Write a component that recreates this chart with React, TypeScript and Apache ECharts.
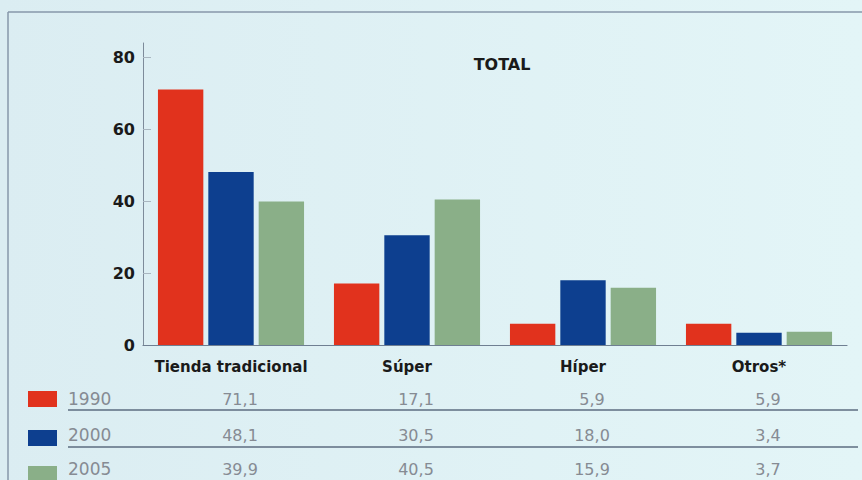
import React, { useEffect, useRef } from "react";
import * as echarts from "echarts";

const categories = ["Tienda tradicional", "Súper", "Híper", "Otros*"];
const years = ["1990", "2000", "2005"];
const values1990 = [71.1, 17.1, 5.9, 5.9];
const values2000 = [48.1, 30.5, 18.0, 3.4];
const values2005 = [39.9, 40.5, 15.9, 3.7];
const yTicks = [0, 20, 40, 60, 80];
const colors = ["#e1321d", "#0d3f8f", "#8aaf88"];

const fmt = (v: number) => v.toFixed(1).replace(".", ",");

export default function App() {
  const ref = useRef<HTMLDivElement>(null);
  useEffect(() => {
    const el = ref.current!;
    const chart = echarts.init(el, undefined, { renderer: "svg" });
    const W = 862;
    const gridLeft = 143;
    const gridWidth = 704;
    const colW = gridWidth / categories.length;
    const rowsY = [399, 435, 469];
    const seriesVals = [values1990, values2000, values2005];

    const graphic: any[] = [
      { type: "line", shape: { x1: 8, y1: 12, x2: W, y2: 12 }, style: { stroke: "#8797aa", lineWidth: 1.5 } },
      { type: "line", shape: { x1: 8, y1: 12, x2: 8, y2: 480 }, style: { stroke: "#8797aa", lineWidth: 1.5 } },
      { type: "line", shape: { x1: 68, y1: 410, x2: 858, y2: 410 }, style: { stroke: "#5d6c80", lineWidth: 1.3 } },
      { type: "line", shape: { x1: 68, y1: 447, x2: 858, y2: 447 }, style: { stroke: "#5d6c80", lineWidth: 1.3 } },
    ];
    const swatchY = [391, 430, 466];
    years.forEach((yr, r) => {
      graphic.push({
        type: "rect",
        shape: { x: 28, y: swatchY[r], width: 29, height: 16 },
        style: { fill: colors[r] },
      });
      graphic.push({
        type: "text",
        x: 68,
        y: rowsY[r],
        style: {
          text: yr,
          fill: "#868b93",
          font: "17px 'DejaVu Sans'",
          textVerticalAlign: "middle",
          textAlign: "left",
        },
      });
      seriesVals[r].forEach((v, c) => {
        graphic.push({
          type: "text",
          x: gridLeft + (c + 0.5) * colW + 9,
          y: rowsY[r],
          style: {
            text: fmt(v),
            fill: "#868b93",
            font: "16px 'DejaVu Sans'",
            textVerticalAlign: "middle",
            textAlign: "center",
          },
        });
      });
    });

    chart.setOption({
      animation: false,
      backgroundColor: {
        type: "linear",
        x: 0, y: 0, x2: 1, y2: 0,
        colorStops: [
          { offset: 0, color: "#dbedf2" },
          { offset: 1, color: "#e3f5f7" },
        ],
      },
      title: {
        text: "TOTAL",
        left: 497,
        top: 51,
        textAlign: "center",
        textStyle: { fontFamily: "DejaVu Sans", fontWeight: "bold", fontSize: 16, color: "#1a1a1a" },
      },
      grid: { left: gridLeft, width: gridWidth, top: 43, height: 302 },
      xAxis: {
        type: "category",
        data: categories,
        axisLine: { lineStyle: { color: "#6f7f92", width: 1.2 } },
        axisTick: { show: false },
        axisLabel: {
          interval: 0,
          fontFamily: "DejaVu Sans",
          fontWeight: "bold",
          fontSize: 15,
          color: "#1a1a1a",
          margin: 14,
        },
      },
      yAxis: {
        type: "value",
        min: 0,
        max: 84,
        splitLine: { show: false },
        axisLine: { show: true, lineStyle: { color: "#7d8b9a", width: 1 } },
        axisTick: {
          show: true,
          inside: true,
          length: 8,
          customValues: yTicks.slice(1),
          lineStyle: { color: "#a9b6c0" },
        },
        axisLabel: {
          customValues: yTicks,
          fontFamily: "DejaVu Sans",
          fontWeight: "bold",
          fontSize: 16,
          color: "#1a1a1a",
          margin: 8,
        },
      },
      series: seriesVals.map((vals, i) => ({
        type: "bar",
        name: years[i],
        data: vals,
        barGap: "11%",
        barCategoryGap: "17%",
        itemStyle: { color: colors[i] },
      })),
      graphic,
    });
    return () => chart.dispose();
  }, []);
  return (
    <div
      ref={ref}
      style={{ position: "fixed", left: 0, top: 0, width: 862, height: 480 }}
    />
  );
}
